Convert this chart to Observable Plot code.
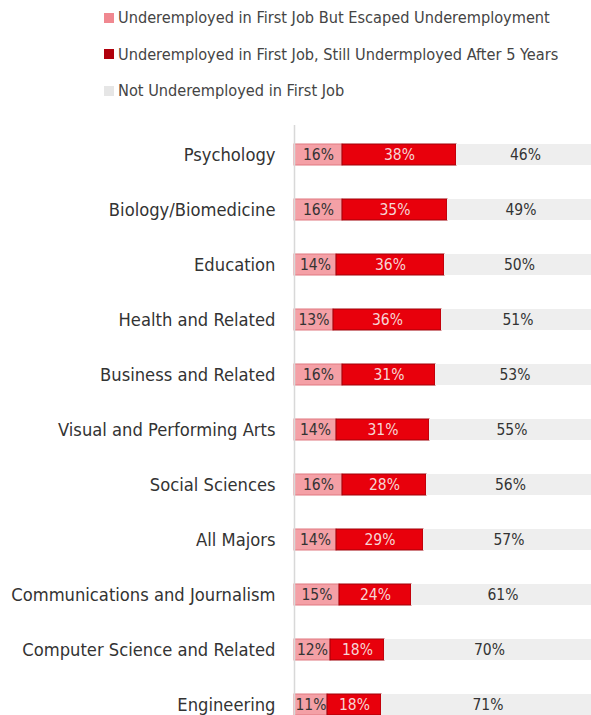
<!DOCTYPE html>
<html>
<head>
<meta charset="utf-8">
<script src="https://cdn.jsdelivr.net/npm/d3@7"></script>
<script src="https://cdn.jsdelivr.net/npm/@observablehq/plot@0.6"></script>
<style>
  body { margin: 0; background: #fff; font-family: "Liberation Sans Narrow", "DejaVu Sans Condensed", sans-serif; }
  #legend { height: 105px; position: relative; }
  .li { position: absolute; left: 104px; font-size: 16.2px; color: #444; display: flex; align-items: center; white-space: nowrap; }
  .sw { width: 10px; height: 10px; margin-right: 4px; }
</style>
</head>
<body>
<div id="legend"></div>
<div id="chart"></div>
<script>
const categories = ["Psychology","Biology/Biomedicine","Education","Health and Related","Business and Related","Visual and Performing Arts","Social Sciences","All Majors","Communications and Journalism","Computer Science and Related","Engineering"];
const escaped = [16,16,14,13,16,14,16,14,15,12,11];
const still = [38,35,36,36,31,31,28,29,24,18,18];
const notUnder = [46,49,50,51,53,55,56,57,61,70,71];
const seriesNames = ["Underemployed in First Job But Escaped Underemployment","Underemployed in First Job, Still Undermployed After 5 Years","Not Underemployed in First Job"];
const fills = ["#f4a0a6","#e8000c","#eeeeee"];
const strokes = ["#e07880","#a00008","none"];
const textFills = ["#333","#f6d6d6","#333"];
const legendFills = ["#f08890","#b0000c","#e6e6e6"];

const legend = document.getElementById("legend");
seriesNames.forEach((n,i) => {
  const d = document.createElement("div");
  d.className = "li";
  d.style.top = (8 + i*36.5) + "px";
  d.innerHTML = `<div class="sw" style="background:${legendFills[i]}"></div><span>${n}</span>`;
  legend.appendChild(d);
});

const rows = [];
categories.forEach((c,i) => {
  const vals = [escaped[i], still[i], notUnder[i]];
  let x = 0;
  vals.forEach((v,k) => { rows.push({cat:c, series:k, v, x1:x, x2:x+v}); x += v; });
});

const chart = Plot.plot({
  width: 591,
  height: 610,
  marginLeft: 294,
  marginRight: 0,
  marginTop: 20,
  marginBottom: 0,
  style: {fontFamily: '"Liberation Sans Narrow", "DejaVu Sans Condensed", sans-serif', overflow: "visible"},
  x: {domain: [0, 100], range: [294, 594], axis: null},
  y: {domain: categories, range: [21.45, 627.55], paddingInner: 0.62, paddingOuter: 0.31, label: null},
  marks: [
    Plot.barX(rows, {y: "cat", x1: "x1", x2: "x2", fill: d => fills[d.series], stroke: d => strokes[d.series], strokeWidth: 1}),
    Plot.text(rows, {y: "cat", x: d => (d.x1 + d.x2)/2, text: d => d.v + "%", fill: d => textFills[d.series], fontSize: 15.5}),
    Plot.ruleX([0], {stroke: "#d8d8d8", strokeWidth: 1.5}),
    Plot.axisY({tickSize: 0, tickPadding: 19, fontSize: 18.2, fill: "#333", label: null})
  ]
});
document.getElementById("chart").appendChild(chart);
</script>
</body>
</html>
